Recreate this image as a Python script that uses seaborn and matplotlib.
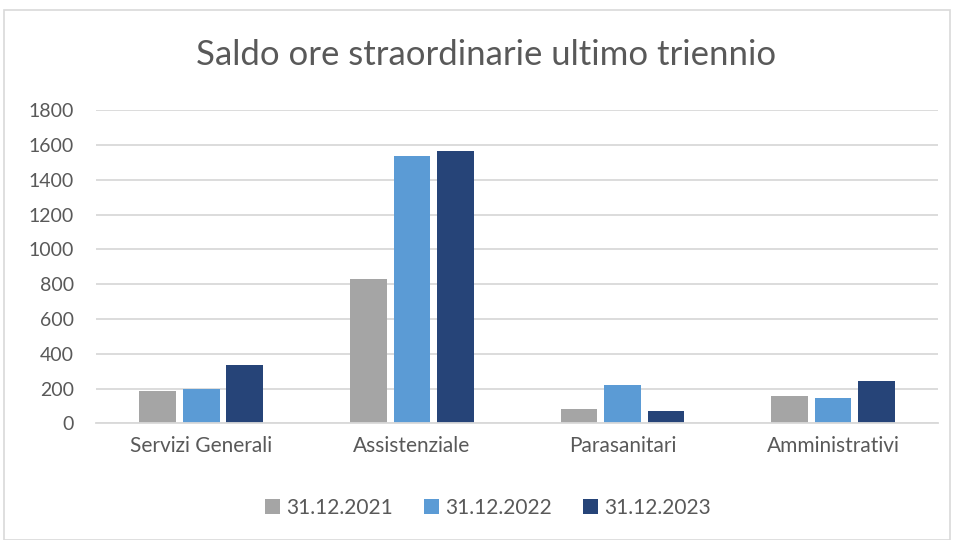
import matplotlib
matplotlib.use("Agg")
import matplotlib.pyplot as plt
import seaborn as sns
import pandas as pd
from matplotlib.patches import Rectangle

categories = ["Servizi Generali", "Assistenziale", "Parasanitari", "Amministrativi"]
series = ["31.12.2021", "31.12.2022", "31.12.2023"]
v2021 = [185, 827, 82, 155]
v2022 = [195, 1535, 218, 144]
v2023 = [333, 1568, 71, 243]
yticks = [0, 200, 400, 600, 800, 1000, 1200, 1400, 1600, 1800]
colors = ["#A5A5A5", "#5B9BD5", "#264478"]

rows = []
for s, vals in zip(series, [v2021, v2022, v2023]):
    for c, v in zip(categories, vals):
        rows.append({"cat": c, "serie": s, "val": v})
df = pd.DataFrame(rows)

sns.set_theme(style="white")
plt.rcParams["font.family"] = ["Lato", "DejaVu Sans"]

fig = plt.figure(figsize=(9.57, 5.40), dpi=100)
ax = fig.add_axes([0.1003, 0.216, 0.880, 0.580])

sns.barplot(data=df, x="cat", y="val", hue="serie", order=categories, hue_order=series,
            palette=colors, width=0.62, gap=0.16, ax=ax, saturation=1, errorbar=None,
            edgecolor="none")

ax.set_ylim(0, 1800)
ax.set_yticks(yticks)
ax.set_xlim(-0.5, 3.5)
ax.yaxis.grid(True, color="#D9D9D9", linewidth=1.3)
ax.set_axisbelow(True)
for sp in ["top", "right", "left"]:
    ax.spines[sp].set_visible(False)
ax.spines["bottom"].set_color("#D9D9D9")
ax.spines["bottom"].set_linewidth(1.3)
ax.set_xlabel("")
ax.set_ylabel("")
ax.tick_params(axis="both", length=0, colors="#595959")
ax.tick_params(axis="y", pad=16, labelsize=14)
ax.tick_params(axis="x", pad=9, labelsize=15)
for lab in ax.get_yticklabels():
    lab.set_horizontalalignment("right")

fig.text(0.508, 0.898, "Saldo ore straordinarie ultimo triennio", ha="center", va="center",
         fontsize=25, color="#595959")

handles, labels = ax.get_legend_handles_labels()
ax.legend_.remove()
fig.legend(handles, labels, loc="center", bbox_to_anchor=(0.51, 0.06), ncol=3, frameon=False,
           fontsize=15, labelcolor="#595959", handlelength=0.7, handleheight=0.7,
           handletextpad=0.3, columnspacing=1.5)

fig.patches.append(Rectangle((4/957, 0), 946/957, 1 - 10/540, transform=fig.transFigure,
                             fill=False, edgecolor="#D9D9D9", linewidth=1.2))

fig.savefig("out.png", dpi=100)
